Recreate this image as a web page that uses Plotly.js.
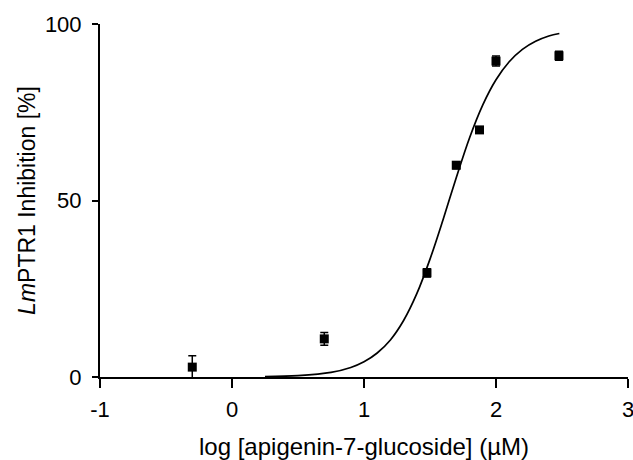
<!DOCTYPE html>
<html>
<head>
<meta charset="utf-8">
<script src="https://cdn.plot.ly/plotly-3.0.1.min.js"></script>
<style>html,body{margin:0;padding:0;background:#fff;}#chart{width:633px;height:460px;}</style>
</head>
<body>
<div id="chart"></div>
<script>
// Measured points (log concentration, % inhibition, error)
const logConc = [-0.301, 0.699, 1.477, 1.699, 1.875, 2.0, 2.477];
const inhibition = [2.8, 10.8, 29.5, 60.0, 70.0, 89.5, 91.0];
const errorVals = [3.2, 1.8, 1.2, 1.0, 0.8, 1.4, 1.3];

// Fitted curve
const curveX = [0.25, 0.5, 0.75, 0.9, 1.0, 1.1, 1.2, 1.3, 1.4, 1.5, 1.6, 1.7, 1.8, 1.9, 2.0, 2.1, 2.2, 2.3, 2.4, 2.48];
const curveY = [0.1, 0.4, 1.3, 2.7, 4.3, 6.8, 10.5, 16.0, 23.6, 33.4, 44.7, 56.6, 67.8, 77.1, 84.2, 89.3, 92.8, 95.1, 96.6, 97.3];

const xTicks = [-1, 0, 1, 2, 3];
const yTicks = [0, 50, 100];

const fam = 'Liberation Sans, Arial, sans-serif';

const traces = [
  {
    x: curveX, y: curveY, mode: 'lines', type: 'scatter',
    line: {color: '#000', width: 1.7, shape: 'spline', smoothing: 1},
    hoverinfo: 'skip', cliponaxis: false
  },
  {
    x: logConc, y: inhibition, mode: 'markers', type: 'scatter',
    marker: {symbol: 'square', size: 9, color: '#000'},
    error_y: {type: 'data', array: errorVals, visible: true, color: '#000', thickness: 1.5, width: 4},
    cliponaxis: false
  }
];

const layout = {
  width: 633, height: 460,
  margin: {l: 100, r: 5, t: 24, b: 83},
  paper_bgcolor: '#fff', plot_bgcolor: '#fff',
  showlegend: false,
  font: {family: fam, color: '#000'},
  xaxis: {
    range: [-1, 3], tickvals: xTicks, ticktext: xTicks.map(String),
    showgrid: false, zeroline: false, showline: true, linecolor: '#000', linewidth: 2,
    ticks: 'outside', ticklen: 9, tickwidth: 2, tickcolor: '#000',
    ticklabeloverflow: 'allow', ticklabelstandoff: 3,
    tickfont: {family: fam, size: 22, color: '#000'},
    title: {text: 'log [apigenin-7-glucoside] (µM)', font: {family: fam, size: 24, color: '#000'}, standoff: 18}
  },
  yaxis: {
    range: [0, 100], tickvals: yTicks, ticktext: yTicks.map(String),
    showgrid: false, zeroline: false, showline: true, linecolor: '#000', linewidth: 2,
    ticks: 'outside', ticklen: 6, tickwidth: 2, tickcolor: '#000',
    ticklabelstandoff: 6,
    tickfont: {family: fam, size: 22, color: '#000'},
    title: {text: '<i>Lm</i>PTR1 Inhibition [%]', font: {family: fam, size: 23, color: '#000'}, standoff: 3}
  }
};

Plotly.newPlot('chart', traces, layout, {displayModeBar: false, staticPlot: true});
</script>
</body>
</html>
